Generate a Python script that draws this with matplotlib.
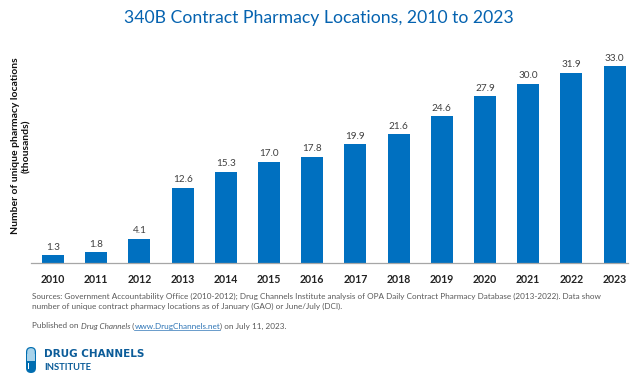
import matplotlib
matplotlib.use("Agg")
import matplotlib.pyplot as plt
from matplotlib.patches import FancyBboxPatch, Rectangle

plt.rcParams['font.family'] = ['Lato', 'DejaVu Sans']

years = [2010, 2011, 2012, 2013, 2014, 2015, 2016, 2017, 2018, 2019, 2020, 2021, 2022, 2023]
values = [1.3, 1.8, 4.1, 12.6, 15.3, 17.0, 17.8, 19.9, 21.6, 24.6, 27.9, 30.0, 31.9, 33.0]
title = "340B Contract Pharmacy Locations, 2010 to 2023"
ylabel = "Number of unique pharmacy locations\n(thousands)"
BLUE = "#0070C0"
W, H = 640, 373

fig = plt.figure(figsize=(6.4, 3.73), dpi=100, facecolor="white")
L, R, T, B = 31, 628, 50, 263
ax = fig.add_axes([L/W, 1-B/H, (R-L)/W, (B-T)/H])
ax.bar(range(len(years)), values, width=0.51, color=BLUE)
# 43.2 px per category, first centre at x=53
ax.set_xlim((L-53)/43.2, (R-53)/43.2)
ax.set_ylim(0, (B-T)/5.97)
for s in ["top", "left", "right"]:
    ax.spines[s].set_visible(False)
ax.spines["bottom"].set_color("#A6A6A6")
ax.spines["bottom"].set_linewidth(0.9)
ax.set_yticks([])
ax.set_xticks(range(len(years)))
ax.set_xticklabels(years, fontsize=7.6, fontweight="bold", color="#222222")
ax.tick_params(axis="x", length=0, pad=8)
for i, v in enumerate(values):
    ax.annotate(f"{v:.1f}", (i, v), xytext=(0, 2.5), textcoords="offset points",
                ha="center", va="bottom", fontsize=7.2, color="#404040")

fig.text(318.5/W, 1-18/H, title, ha="center", va="center", fontsize=12.7, color="#0563B0")
fig.text(21/W, 1-146/H, ylabel, rotation=90, ha="center", va="center", fontsize=7.5,
         fontweight="bold", color="#111111", linespacing=1.4, multialignment="center")

GREY = "#595959"
fig.text(32/W, 1-296/H, "Sources: Government Accountability Office (2010-2012); Drug Channels Institute analysis of OPA Daily Contract Pharmacy Database (2013-2022). Data show",
         fontsize=5.85, color=GREY, va="center")
fig.text(32/W, 1-306/H, "number of unique contract pharmacy locations as of January (GAO) or June/July (DCI).",
         fontsize=5.85, color=GREY, va="center")
t = fig.text(32/W, 1-326/H, "Published on ", fontsize=5.85, color=GREY, va="center")
r = fig.canvas.get_renderer()
def after(prev, s, **kw):
    x = prev.get_window_extent(r).x1 / W
    return fig.text(x, 1-326/H, s, fontsize=5.85, va="center", **kw)
t = after(t, "Drug Channels", style="italic", color=GREY)
t = after(t, " (", color=GREY)
t = after(t, "www.DrugChannels.net", color="#2E75B6")
e = t.get_window_extent(r)
fig.add_artist(plt.Line2D([e.x0/W, e.x1/W], [1-329.5/H]*2, color="#2E75B6", lw=0.5))
t = after(t, ") on July 11, 2023.", color=GREY)

# logo capsule
la = fig.add_axes([0, 0, 1, 1], facecolor="none")
la.set_xlim(0, W); la.set_ylim(H, 0); la.axis("off")
la.add_patch(FancyBboxPatch((26, 347), 10, 26, boxstyle="round,pad=0,rounding_size=5",
                            fc="#006DB0", ec="none"))
la.add_patch(FancyBboxPatch((27.2, 348.2), 7.6, 12, boxstyle="round,pad=0,rounding_size=3.8",
                            fc="#A9D3EA", ec="none"))
la.add_patch(Rectangle((27.2, 354), 7.6, 6.5, fc="#A9D3EA", ec="none"))
la.add_patch(Rectangle((28.2, 363), 1, 6, fc="white", ec="none"))
fig.text(44/W, 1-354/H, "DRUG CHANNELS", fontsize=7.5, fontweight="bold", color="#0B5C99",
         va="center", family=["DejaVu Sans"])
fig.text(44/W, 1-367/H, "INSTITUTE", fontsize=6.8, fontweight="bold", color="#0B5C99", va="center")

fig.savefig("out.png", dpi=100)
